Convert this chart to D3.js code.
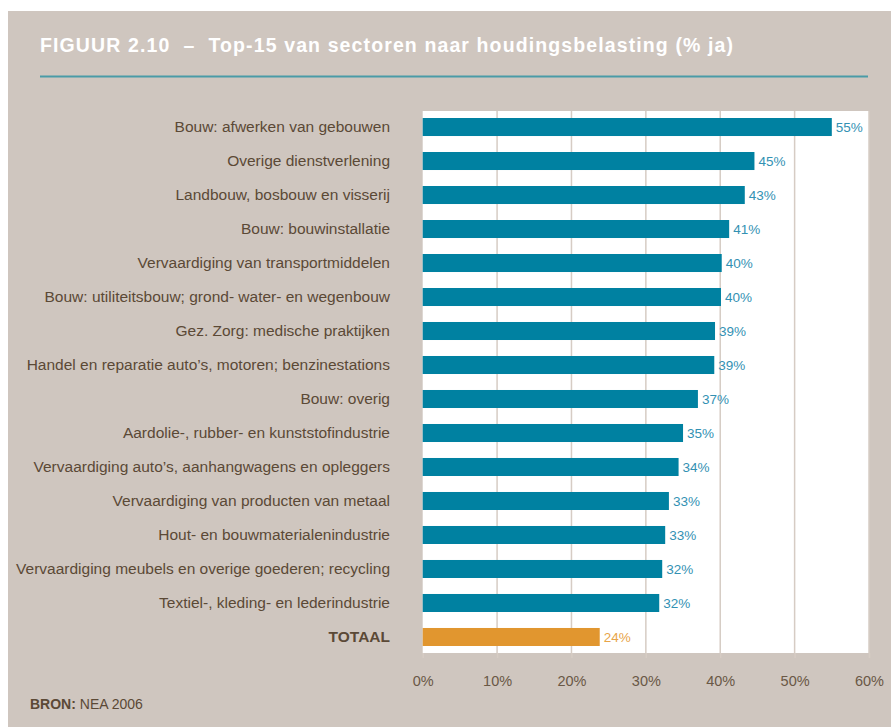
<!DOCTYPE html>
<html>
<head>
<meta charset="utf-8">
<script src="https://cdn.jsdelivr.net/npm/d3@7"></script>
<style>
  html, body { margin: 0; padding: 0; background: #ffffff; }
  svg { display: block; }
</style>
</head>
<body>
<svg id="chart" width="891" height="727"></svg>
<script>
// Sectors, ordered top to bottom as drawn
const categories = [
  "Bouw: afwerken van gebouwen",
  "Overige dienstverlening",
  "Landbouw, bosbouw en visserij",
  "Bouw: bouwinstallatie",
  "Vervaardiging van transportmiddelen",
  "Bouw: utiliteitsbouw; grond- water- en wegenbouw",
  "Gez. Zorg: medische praktijken",
  "Handel en reparatie auto\u2019s, motoren; benzinestations",
  "Bouw: overig",
  "Aardolie-, rubber- en kunststofindustrie",
  "Vervaardiging auto\u2019s, aanhangwagens en opleggers",
  "Vervaardiging van producten van metaal",
  "Hout- en bouwmaterialenindustrie",
  "Vervaardiging meubels en overige goederen; recycling",
  "Textiel-, kleding- en lederindustrie",
  "TOTAAL"
];

// Share of employees reporting physical strain (% ja)
const values = [55.0, 44.6, 43.3, 41.2, 40.2, 40.1, 39.3, 39.2, 37.0, 35.0, 34.4, 33.1, 32.6, 32.2, 31.8, 23.8];

// Axis ticks
const tickValues = [0, 10, 20, 30, 40, 50, 60];

const totalLabel = "TOTAAL";
const titleText = "FIGUUR 2.10  \u2013  Top-15 van sectoren naar houdingsbelasting (% ja)";
const sourceBold = "BRON:";
const sourceText = " NEA 2006";

const colors = {
  panel: "#cfc6bf",
  plot: "#ffffff",
  grid: "#d6ccc4",
  bar: "#0081a1",
  total: "#e1962f",
  valueText: "#3391b3",
  totalText: "#e8a448",
  label: "#5b4936",
  tick: "#6a5846",
  rule: "#4a9ba7"
};

const font = "'Liberation Sans', Arial, sans-serif";

const svg = d3.select("#chart");

// Background panel
svg.append("rect")
  .attr("x", 8).attr("y", 11)
  .attr("width", 891 - 8).attr("height", 727 - 11)
  .attr("fill", colors.panel);

// Title (spaces around the dash are kept)
svg.append("text")
  .attr("x", 40).attr("y", 52)
  .attr("fill", "#ffffff")
  .attr("font-family", font)
  .attr("font-weight", "bold")
  .attr("font-size", 19.5)
  .style("white-space", "pre")
  .attr("textLength", 693)
  .attr("lengthAdjust", "spacing")
  .text(titleText);

svg.append("line")
  .attr("x1", 40).attr("x2", 868)
  .attr("y1", 76.5).attr("y2", 76.5)
  .attr("stroke", colors.rule)
  .attr("stroke-width", 2);

// Plot region
const plot = { left: 422.7, right: 869, top: 111, bottom: 653 };

const x = d3.scaleLinear()
  .domain([0, 60])
  .range([plot.left, plot.right]);

const y = d3.scaleBand()
  .domain(categories)
  .range([plot.top, plot.bottom])
  .paddingInner(0.47)
  .paddingOuter(0.206);

svg.append("rect")
  .attr("x", plot.left).attr("y", plot.top)
  .attr("width", plot.right - plot.left)
  .attr("height", plot.bottom - plot.top)
  .attr("fill", colors.plot);

// Vertical gridlines
svg.append("g")
  .selectAll("line")
  .data(tickValues.filter(d => d > 0))
  .join("line")
  .attr("x1", d => x(d)).attr("x2", d => x(d))
  .attr("y1", plot.top).attr("y2", plot.bottom)
  .attr("stroke", colors.grid)
  .attr("stroke-width", 1.5);

// Bottom axis
const axis = svg.append("g")
  .attr("transform", `translate(0,${plot.bottom})`)
  .call(d3.axisBottom(x)
    .tickValues(tickValues)
    .tickSize(5)
    .tickPadding(18)
    .tickFormat(d => d + "%"));

axis.select(".domain").remove();
axis.selectAll(".tick line")
  .attr("stroke", colors.grid)
  .attr("stroke-width", 1.5);
axis.selectAll(".tick text")
  .attr("fill", colors.tick)
  .attr("font-family", font)
  .attr("font-size", 14.5);

// Bars
const rows = categories.map((c, i) => ({ cat: c, value: values[i], total: c === totalLabel }));

svg.append("g")
  .selectAll("rect")
  .data(rows)
  .join("rect")
  .attr("x", x(0))
  .attr("y", d => y(d.cat))
  .attr("width", d => x(d.value) - x(0))
  .attr("height", y.bandwidth())
  .attr("fill", d => d.total ? colors.total : colors.bar);

// Value labels
svg.append("g")
  .selectAll("text")
  .data(rows)
  .join("text")
  .attr("x", d => x(d.value) + 4)
  .attr("y", d => y(d.cat) + y.bandwidth() / 2 + 5)
  .attr("fill", d => d.total ? colors.totalText : colors.valueText)
  .attr("font-family", font)
  .attr("font-size", 13.5)
  .text(d => d3.format(".0f")(d.value) + "%");

// Category labels
svg.append("g")
  .selectAll("text")
  .data(rows)
  .join("text")
  .attr("x", 390)
  .attr("y", d => y(d.cat) + y.bandwidth() / 2 + 5)
  .attr("text-anchor", "end")
  .attr("fill", colors.label)
  .attr("font-family", font)
  .attr("font-size", 15.5)
  .attr("font-weight", d => d.total ? "bold" : "normal")
  .text(d => d.cat);

// Source
const src = svg.append("text")
  .attr("x", 30).attr("y", 709)
  .attr("fill", colors.label)
  .attr("font-family", font)
  .attr("font-size", 14);
src.append("tspan").attr("font-weight", "bold").text(sourceBold);
src.append("tspan").text(sourceText);
</script>
</body>
</html>
